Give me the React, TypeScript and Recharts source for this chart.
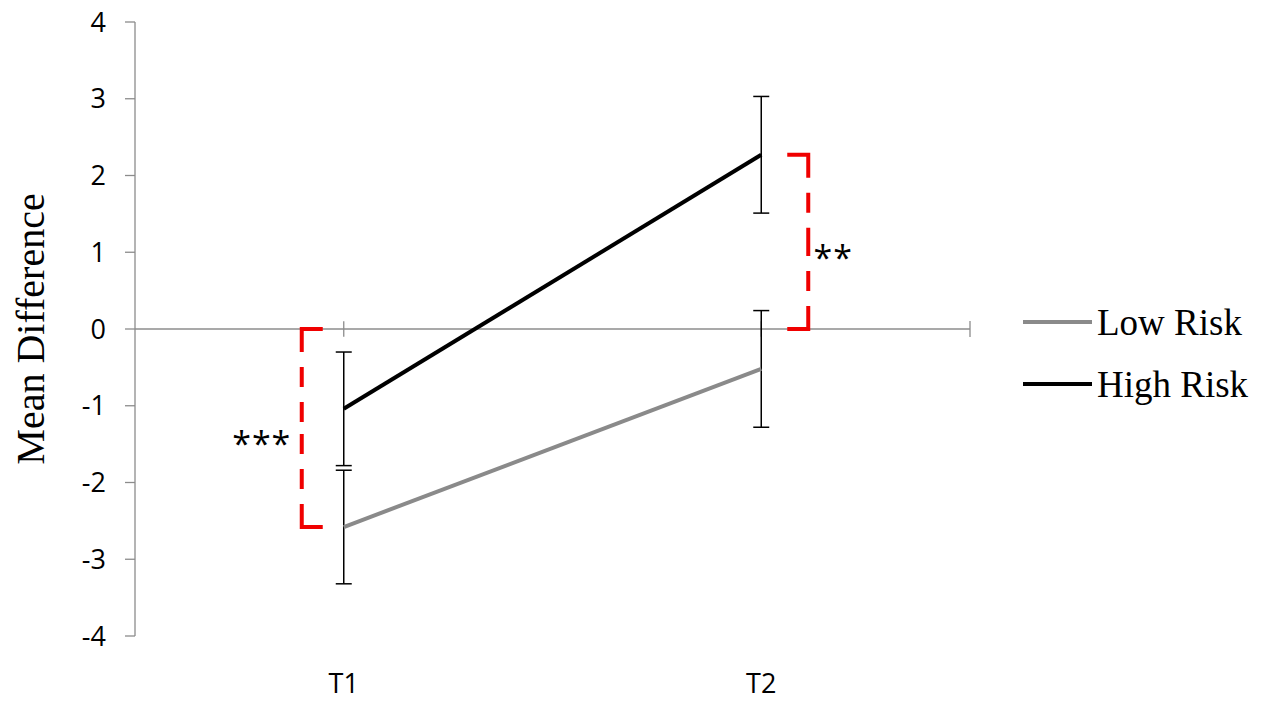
import {
  ComposedChart,
  Line,
  XAxis,
  YAxis,
  ErrorBar,
  ReferenceLine,
  Legend,
} from 'recharts';

const categories = ['T1', 'T2'];
const lowRisk = [-2.58, -0.52];
const highRisk = [-1.04, 2.27];
const lowErr = [0.74, 0.76];
const highErr = [0.74, 0.76];
const yTicks = [-4, -3, -2, -1, 0, 1, 2, 3, 4];
const sigLabels = ['***', '**'];

const data = categories.map((time, i) => ({
  time,
  low: lowRisk[i],
  high: highRisk[i],
  lowErr: lowErr[i],
  highErr: highErr[i],
}));

const AXIS = '#8c8c8c';
const RED = '#f00000';
const SERIF = '"Liberation Serif", "Times New Roman", serif';
const SANS = '"Open Sans", "Liberation Sans", Arial, sans-serif';

// zero line across the plot, with a cross tick at its right end
const ZeroLine = (props: any) => {
  const { x1, x2, y1 } = props;
  return (
    <g>
      <line x1={x1} y1={y1} x2={x2} y2={y1} stroke={AXIS} strokeWidth={1.3} />
      <line x1={x2} y1={y1 - 8} x2={x2} y2={y1 + 8} stroke={AXIS} strokeWidth={1.3} />
    </g>
  );
};

const CrossTick = (props: any) => (
  <line x1={props.x1} y1={props.y1} x2={props.x2} y2={props.y2} stroke={AXIS} strokeWidth={1.3} />
);

// dashed red bracket between two y values, offset sideways from the category
const bracket = (offset: number, hook: number, label: string, labelDx: number) => (props: any) => {
  const { x1, y1, y2 } = props;
  const vx = x1 + offset;
  const hx = vx + hook;
  const mid = (y1 + y2) / 2;
  const dash = '44 15 20 15 20 15 20 15 20 15 20 15 20 15';
  return (
    <g>
      <path d={`M${hx},${y1} L${vx},${y1} L${vx},${mid}`} fill="none" stroke={RED} strokeWidth={4} strokeDasharray={dash} />
      <path d={`M${hx},${y2} L${vx},${y2} L${vx},${mid}`} fill="none" stroke={RED} strokeWidth={4} strokeDasharray={dash} />
      <text x={vx + labelDx} y={mid + 28} textAnchor="middle" fontFamily={SANS} fontSize={34} letterSpacing={1} fill="#000">
        {label}
      </text>
    </g>
  );
};

const LegendContent = () => (
  <div style={{ fontFamily: SERIF, fontSize: 37, color: '#000' }}>
    {[
      { name: 'Low Risk', color: '#8a8a8a' },
      { name: 'High Risk', color: '#000' },
    ].map((it) => (
      <div key={it.name} style={{ display: 'flex', alignItems: 'center', height: 62 }}>
        <div style={{ width: 69, height: 4, background: it.color, marginRight: 5 }} />
        <span style={{ lineHeight: 1 }}>{it.name}</span>
      </div>
    ))}
  </div>
);

const YLabel = (props: any) => {
  const { viewBox } = props;
  const cx = viewBox.x + 30;
  const cy = viewBox.y + viewBox.height / 2;
  return (
    <text x={cx} y={cy} transform={`rotate(-90, ${cx}, ${cy})`} textAnchor="middle" dominantBaseline="central" fontFamily={SERIF} fontSize={40} fill="#000">
      Mean Difference
    </text>
  );
};

export default function App() {
  return (
    <div style={{ width: 1267, height: 704, background: '#fff' }}>
      <style>{'body{margin:0;}'}</style>
      <ComposedChart width={1267} height={704} data={data} margin={{ top: 22, right: 297, bottom: 0, left: 0 }}>
        <XAxis
          dataKey="time"
          scale="band"
          height={68}
          axisLine={false}
          tickLine={false}
          tickSize={0}
          tickMargin={38}
          tick={{ fill: '#000', fontSize: 27, fontFamily: SANS }}
        />
        <YAxis
          width={135}
          domain={[-4, 4]}
          ticks={yTicks}
          allowDataOverflow
          axisLine={{ stroke: AXIS, strokeWidth: 1.3 }}
          tickLine={{ stroke: AXIS, strokeWidth: 1.3 }}
          tickSize={10}
          tickMargin={19}
          tick={{ fill: '#000', fontSize: 27, fontFamily: SANS }}
          label={<YLabel />}
        />
        <ReferenceLine y={0} shape={ZeroLine} ifOverflow="visible" />
        {categories.map((c) => (
          <ReferenceLine key={c} segment={[{ x: c, y: -0.1 }, { x: c, y: 0.1 }]} shape={CrossTick} ifOverflow="visible" />
        ))}
        <ReferenceLine
          segment={[{ x: categories[0], y: 0 }, { x: categories[0], y: lowRisk[0] }]}
          shape={bracket(-42, 21, sigLabels[0], -40)}
          ifOverflow="visible"
        />
        <ReferenceLine
          segment={[{ x: categories[1], y: highRisk[1] }, { x: categories[1], y: 0 }]}
          shape={bracket(47, -21, sigLabels[1], 25)}
          ifOverflow="visible"
        />
        <Line
          dataKey="low"
          name="Low Risk"
          type="linear"
          stroke="#8a8a8a"
          strokeWidth={4}
          dot={false}
          activeDot={false}
          isAnimationActive={false}
        >
          <ErrorBar dataKey="lowErr" width={8} stroke="#000" strokeWidth={1.5} direction="y" isAnimationActive={false} />
        </Line>
        <Line
          dataKey="high"
          name="High Risk"
          type="linear"
          stroke="#000"
          strokeWidth={4}
          dot={false}
          activeDot={false}
          isAnimationActive={false}
        >
          <ErrorBar dataKey="highErr" width={8} stroke="#000" strokeWidth={1.5} direction="y" isAnimationActive={false} />
        </Line>
        <Legend
          layout="vertical"
          align="center"
          verticalAlign="middle"
          content={<LegendContent />}
          wrapperStyle={{ left: 1023, top: 291, width: 244 }}
        />
      </ComposedChart>
    </div>
  );
}
